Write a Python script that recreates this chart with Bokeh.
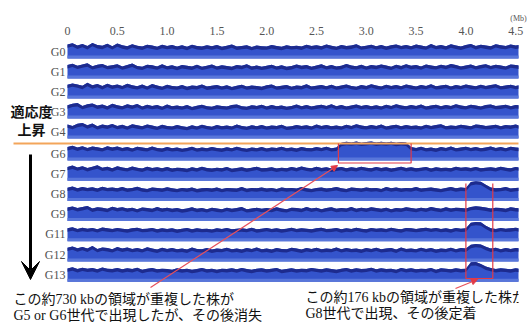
import numpy as np
from bokeh.plotting import figure
from bokeh.models import Range1d, FixedTicker, Label, Arrow, VeeHead, NormalHead
from bokeh.core.properties import value
from bokeh.embed import file_html
from bokeh.resources import INLINE

# ---------------- data ----------------
tick_mb = [0.0, 0.5, 1.0, 1.5, 2.0, 2.5, 3.0, 3.5, 4.0, 4.5]
tick_labels = ["0", "0.5", "1.0", "1.5", "2.0", "2.5", "3.0", "3.5", "4.0", "4.5"]
track_names = ["G0", "G1", "G2", "G3", "G4", "G6", "G7", "G8", "G9", "G11", "G12", "G13"]
BIN_MB = 0.05  # coverage read every 0.05 Mb (percent of genome mean)

cov_G0 = [108,118,100,112,96,120,104,98,114,95,
          116,101,94,110,99,92,106,100,91,105,
          97,103,93,101,90,106,96,92,102,94,
          104,90,98,108,92,97,101,89,100,94,
          93,104,96,90,102,95,99,92,106,96,
          101,94,108,98,91,104,96,100,110,93,
          99,106,95,103,92,101,108,97,104,95,
          107,100,93,111,97,103,94,109,100,92,
          104,112,96,106,100,94,110,102,97,108,
          100,105,97]
cov_G1 = [104,114,99,108,117,95,105,112,97,102,
          110,93,104,115,97,91,106,101,93,109,
          95,101,90,103,98,92,106,91,99,108,
          93,101,96,90,104,98,110,92,100,91,
          98,106,93,101,90,96,108,98,103,91,
          100,109,95,103,93,98,112,100,95,105,
          93,103,98,108,100,91,106,96,110,98,
          103,93,108,100,95,106,98,111,103,93,
          100,108,95,103,110,97,106,100,93,108,
          103,98,105]
cov_G2 = [106,116,108,98,121,102,112,96,114,100,
          108,97,113,102,95,107,93,111,100,91,
          105,97,93,103,90,100,96,108,92,98,
          103,93,101,89,98,106,93,100,96,90,
          101,108,93,98,103,91,100,96,109,93,
          98,103,95,106,93,100,108,97,91,103,
          96,110,100,93,106,97,103,95,108,100,
          93,103,97,110,95,100,106,93,103,97,
          108,100,95,106,97,103,110,95,100,106,
          97,103,108]
cov_G3 = [102,114,119,97,109,116,100,107,94,113,
          102,95,109,100,112,93,105,97,103,91,
          107,95,100,93,103,89,98,106,95,91,
          101,97,93,103,108,95,91,101,97,106,
          93,103,95,100,91,97,108,95,103,93,
          100,106,97,110,95,103,93,100,108,97,
          103,95,101,93,106,97,110,100,95,103,
          97,108,93,100,106,95,103,97,110,100,
          95,106,100,93,103,108,97,100,106,95,
          103,100,97]
cov_G4 = [108,97,113,120,102,115,95,107,100,112,
          97,105,93,109,102,95,108,100,91,105,
          97,93,103,95,89,101,93,106,97,91,
          103,95,100,93,108,97,91,101,95,103,
          93,100,97,106,91,95,103,97,101,93,
          108,97,103,95,100,93,106,97,110,100,
          95,103,97,108,93,100,106,95,103,97,
          100,93,106,97,103,110,95,100,97,106,
          100,95,108,103,97,100,106,95,103,100,
          108,97,103]
cov_G6 = [104,113,100,110,97,107,102,95,109,100,
          107,97,103,93,106,100,95,108,97,92,
          103,95,100,91,97,106,93,100,95,103,
          97,92,101,95,106,97,91,100,95,103,
          93,100,97,106,95,100,92,103,97,95,
          103,97,106,95,100,136,144,139,146,137,
          142,147,138,144,139,145,136,142,138,103,
          97,106,95,100,92,103,97,108,95,100,
          106,97,103,95,100,108,97,103,95,106,
          100,97,103]
cov_G7 = [106,116,102,112,97,108,119,100,107,95,
          111,102,96,109,100,93,107,97,103,95,
          105,93,100,97,91,103,95,108,97,93,
          100,95,106,91,97,103,93,100,108,95,
          97,103,93,100,95,106,97,110,100,95,
          108,97,103,93,100,106,95,103,97,108,
          100,95,106,97,103,93,100,108,97,103,
          95,100,106,93,103,97,100,95,108,100,
          103,97,106,95,100,103,97,108,100,95,
          106,100,97]
cov_G8 = [102,110,97,107,100,105,95,109,100,103,
          97,106,95,100,108,97,92,103,100,95,
          105,97,92,100,95,103,91,97,100,95,
          103,92,100,97,95,106,93,100,97,103,
          95,100,92,103,97,100,95,106,97,92,
          100,103,95,100,106,97,92,103,100,95,
          103,97,100,92,106,97,103,95,100,97,
          106,95,100,103,97,92,100,106,97,103,
          100,145,152,148,125,103,97,100,106,95,
          100,103,97]
cov_G9 = [104,113,100,108,117,97,106,102,95,111,
          100,107,97,103,92,105,100,95,108,97,
          103,95,100,91,97,106,95,100,92,103,
          97,92,103,95,100,108,92,97,103,95,
          100,95,106,97,92,103,100,95,108,97,
          103,92,100,106,95,100,97,108,95,103,
          97,106,100,95,103,92,100,97,106,100,
          95,103,97,108,100,95,106,97,103,100,
          97,109,114,110,104,97,103,100,95,106,
          100,97,103]
cov_G11 = [100,108,95,104,97,103,93,106,100,95,
           103,97,92,100,105,95,97,103,92,100,
           95,100,90,97,103,92,100,95,97,91,
           100,95,103,92,97,100,95,105,92,97,
           103,95,100,92,97,105,95,100,97,92,
           100,105,95,97,103,92,100,95,105,97,
           92,103,97,100,95,105,97,92,103,100,
           95,100,105,97,103,95,100,92,103,97,
           100,143,149,146,120,100,95,103,97,100,
           105,97,100]
cov_G12 = [106,116,102,112,100,120,97,108,103,95,
           111,100,107,97,103,95,109,100,92,105,
           97,103,95,100,92,108,97,95,103,92,
           100,97,106,95,100,92,103,97,108,95,
           100,92,103,97,95,106,100,92,103,97,
           106,95,100,97,108,95,103,97,100,92,
           103,97,106,95,100,103,92,108,97,100,
           95,106,97,103,92,100,97,106,95,103,
           100,129,135,131,113,100,106,95,103,97,
           103,100,106]
cov_G13 = [102,111,97,108,100,105,95,110,100,97,
           105,95,103,97,108,92,100,105,95,100,
           97,92,103,95,100,91,97,106,95,100,
           92,100,97,103,95,106,97,92,100,103,
           95,100,106,92,97,103,95,100,97,106,
           100,95,103,97,92,100,106,95,103,97,
           100,108,95,103,97,100,92,106,97,103,
           95,100,97,106,92,103,100,95,103,97,
           100,149,151,137,117,106,97,103,100,95,
           103,97,100]

coverages = [cov_G0, cov_G1, cov_G2, cov_G3, cov_G4, cov_G6,
             cov_G7, cov_G8, cov_G9, cov_G11, cov_G12, cov_G13]

dup1_mb = [2.72, 3.45]   # ~730 kb duplication (G6)
dup2_mb = [4.00, 4.27]   # ~176 kb duplication (G8 onward)

# ---------------- layout helpers ----------------
W, H = 527, 327
RIGHT_PAD = 9
PX_PER_MB = 99.6
X0_PX = 67.0
def px_to_mb(px):
    return (px - X0_PX) / PX_PER_MB

def track_center(i):
    if i < 5:
        return 51 + 20.0 * i
    return 153 + 20.2 * (i - 5)

PX_PER_PCT = 0.13
TOP = 38

p = figure(width=W, height=H,
           x_range=Range1d(px_to_mb(0), px_to_mb(W - RIGHT_PAD)),
           y_range=Range1d(H, TOP),
           x_axis_location="above", y_axis_location=None,
           toolbar_location=None, output_backend="svg",
           min_border_left=0, min_border_right=RIGHT_PAD,
           min_border_bottom=0, min_border_top=TOP)
p.outline_line_color = None
p.background_fill_color = "white"
p.border_fill_color = "white"
p.grid.visible = False

ax = p.xaxis[0]
ax.ticker = FixedTicker(ticks=tick_mb)
ax.major_label_overrides = {float(t): l for t, l in zip(tick_mb, tick_labels)}
ax.axis_line_color = None
ax.major_tick_line_color = None
ax.minor_tick_line_color = None
ax.major_tick_out = 0
ax.major_tick_in = 0
ax.major_label_standoff = 4
ax.major_label_text_font = "Liberation Serif"
ax.major_label_text_font_size = "12px"
ax.major_label_text_color = "#555555"

ax.axis_label = "(Mb)"
ax.axis_label_align = "end"
ax.axis_label_standoff = 1
ax.axis_label_text_font = "Liberation Serif"
ax.axis_label_text_font_size = "8px"
ax.axis_label_text_font_style = "normal"
ax.axis_label_text_color = "#555555"

# ---------------- tracks ----------------
for i, cov in enumerate(coverages):
    c = track_center(i)
    base = c + 7
    xs = np.arange(len(cov)) * BIN_MB
    top = base - np.array(cov, dtype=float) * PX_PER_PCT
    b = np.full(len(xs), base)
    p.varea(x=xs, y1=b, y2=top, fill_color="#3454cc")
    p.varea(x=xs, y1=b, y2=b - 3, fill_color="#5876da")
    p.varea(x=xs, y1=np.minimum(top + 3.4, base), y2=top, fill_color="#1d2b8e")

centers = [track_center(i) for i in range(len(track_names))]
p.text(x=[px_to_mb(65)] * len(track_names), y=centers, text=track_names,
       text_align="right", text_baseline="middle",
       text_font=value("Liberation Serif"), text_font_size="12px",
       text_color="#505050")

# orange separator between G4 and G6
p.line(x=[px_to_mb(13), px_to_mb(540)], y=[143, 143],
       line_color="#f3a55a", line_width=2)

# red boxes
red = "#e23a46"
p.line(x=[dup1_mb[0], dup1_mb[0], dup1_mb[1], dup1_mb[1]], y=[143, 162.5, 162.5, 143],
       line_color=red, line_width=1.2)
p.line(x=[dup2_mb[0], dup2_mb[0], dup2_mb[1], dup2_mb[1]], y=[183, 278, 278, 183],
       line_color=red, line_width=1.2)

# red pointer arrows
p.add_layout(Arrow(end=NormalHead(size=6, fill_color=red, line_color=red),
                   x_start=px_to_mb(150), y_start=287,
                   x_end=px_to_mb(337), y_end=165,
                   line_color="#e8505a", line_width=1.2))
p.add_layout(Arrow(end=NormalHead(size=6, fill_color=red, line_color=red),
                   x_start=px_to_mb(455), y_start=288,
                   x_end=px_to_mb(477), y_end=279,
                   line_color="#e8505a", line_width=1.2))

# black time arrow
p.add_layout(Arrow(end=VeeHead(size=18, fill_color="black", line_color="black"),
                   x_start=px_to_mb(30), y_start=154,
                   x_end=px_to_mb(30), y_end=279,
                   line_color="black", line_width=3))

# texts
jp_font = "'Noto Sans CJK JP'"
mix_font = "'Liberation Serif', 'Noto Sans CJK JP'"
p.add_layout(Label(x=px_to_mb(52), y=110, text="適応度", text_align="right",
                   text_baseline="middle", text_font=jp_font,
                   text_font_size="14px", text_font_style="bold", text_color="#111111"))
p.add_layout(Label(x=px_to_mb(45), y=128, text="上昇", text_align="right",
                   text_baseline="middle", text_font=jp_font,
                   text_font_size="14px", text_font_style="bold", text_color="#111111"))

p.add_layout(Label(x=px_to_mb(13), y=299, text="この約730 kbの領域が重複した株が",
                   text_baseline="middle", text_font=mix_font,
                   text_font_size="14px", text_color="#111111"))
p.add_layout(Label(x=px_to_mb(13), y=315, text="G5 or G6世代で出現したが、その後消失",
                   text_baseline="middle", text_font=mix_font,
                   text_font_size="14px", text_color="#111111"))
p.add_layout(Label(x=px_to_mb(305), y=297, text="この約176 kbの領域が重複した株が",
                   text_baseline="middle", text_font=mix_font,
                   text_font_size="14px", text_color="#111111"))
p.add_layout(Label(x=px_to_mb(305), y=313, text="G8世代で出現、その後定着",
                   text_baseline="middle", text_font=mix_font,
                   text_font_size="14px", text_color="#111111"))

open("out.html", "w").write(file_html(p, INLINE))
